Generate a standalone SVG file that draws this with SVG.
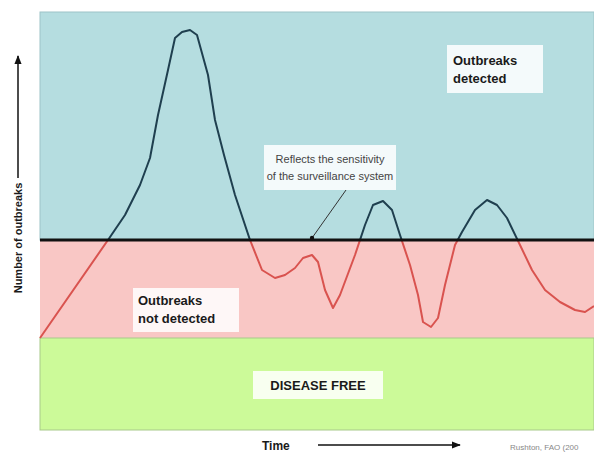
<svg xmlns="http://www.w3.org/2000/svg" width="594" height="453" viewBox="0 0 594 453">
<style>
.lbl{font-family:"Liberation Sans",Arial,sans-serif;font-weight:bold;font-size:13px;fill:#1a1a1a}
.note{font-family:"Liberation Sans",Arial,sans-serif;font-size:11px;fill:#444}
.box{fill:#ffffff;fill-opacity:0.85}
.curve{fill:none;stroke-width:2;stroke-linejoin:round}
</style>
<defs>
<marker id="ah" viewBox="0 0 10 10" refX="9" refY="5" markerWidth="6" markerHeight="6" orient="auto"><path d="M0,1 L10,5 L0,9 z" fill="#111"/></marker>
<clipPath id="above"><rect x="0" y="0" width="594" height="240"/></clipPath>
<clipPath id="below"><rect x="0" y="240" width="594" height="213"/></clipPath>
<path id="cv" d="M40,338 L108,240 L125,215 L140,185 L150,158 L158,115 L168,70 L175,38 L182,32 L190,30 L197,35 L208,75 L215,120 L224,155 L235,195 L250,240 L262,270 L275,278 L285,275 L295,268 L303,258 L312,255 L318,262 L325,290 L333,308 L340,295 L355,255 L365,225 L373,205 L383,201 L392,210 L400,235 L410,265 L418,295 L423,322 L431,327 L438,318 L445,285 L455,245 L462,232 L475,210 L487,200 L497,205 L507,218 L520,245 L532,270 L545,290 L560,302 L575,310 L585,312 L594,306"/>
</defs>
<rect width="594" height="453" fill="#ffffff"/>
<g id="regions">
<rect id="detected-zone" x="40" y="12" width="554" height="228" fill="#b5dde0" stroke="#9ec4c8" stroke-width="1"/>
<rect id="not-detected-zone" x="40" y="240" width="554" height="98" fill="#f9c7c5"/>
<rect id="free-zone" x="40" y="338" width="554" height="92" fill="#ccfa99" stroke="#a8c98a" stroke-width="1"/>
</g>
<g id="curve">
<use href="#cv" class="curve" stroke="#1f3f4f" clip-path="url(#above)"/>
<use href="#cv" class="curve" stroke="#d9534f" clip-path="url(#below)"/>
</g>
<g id="connectors">
<line id="threshold" x1="40" y1="240" x2="594" y2="240" stroke="#111" stroke-width="3"/>
<line id="pointer" x1="346" y1="190" x2="312" y2="238" stroke="#333" stroke-width="1"/>
<circle cx="312" cy="238" r="2.2" fill="#111"/>
<line id="y-arrow" x1="18" y1="178" x2="18" y2="56" stroke="#111" stroke-width="1.5" marker-end="url(#ah)"/>
<line id="x-arrow" x1="318" y1="445" x2="460" y2="445" stroke="#111" stroke-width="1.5" marker-end="url(#ah)"/>
</g>
<g id="n-detected">
<rect class="box" x="447" y="45" width="96" height="48"/>
<text class="lbl" x="453" y="65">Outbreaks</text>
<text class="lbl" x="453" y="83">detected</text>
</g>
<g id="n-sensitivity">
<rect class="box" x="264" y="145" width="132" height="45"/>
<text class="note" x="330" y="163" text-anchor="middle">Reflects the sensitivity</text>
<text class="note" x="330" y="180" text-anchor="middle">of the surveillance system</text>
</g>
<g id="n-not-detected">
<rect class="box" x="133" y="288" width="106" height="44"/>
<text class="lbl" x="138" y="305">Outbreaks</text>
<text class="lbl" x="138" y="323">not detected</text>
</g>
<g id="n-free">
<rect class="box" x="253" y="371" width="130" height="28"/>
<text class="lbl" x="318" y="390" text-anchor="middle">DISEASE FREE</text>
</g>
<g id="axes-labels">
<text class="lbl" font-size="11" transform="translate(22,238) rotate(-90)" text-anchor="middle" style="font-size:11px">Number of outbreaks</text>
<text class="lbl" x="262" y="450" style="font-size:12px">Time</text>
<text x="510" y="450" font-family="Liberation Sans, Arial, sans-serif" font-size="8" fill="#888">Rushton, FAO (200</text>
</g>
</svg>
